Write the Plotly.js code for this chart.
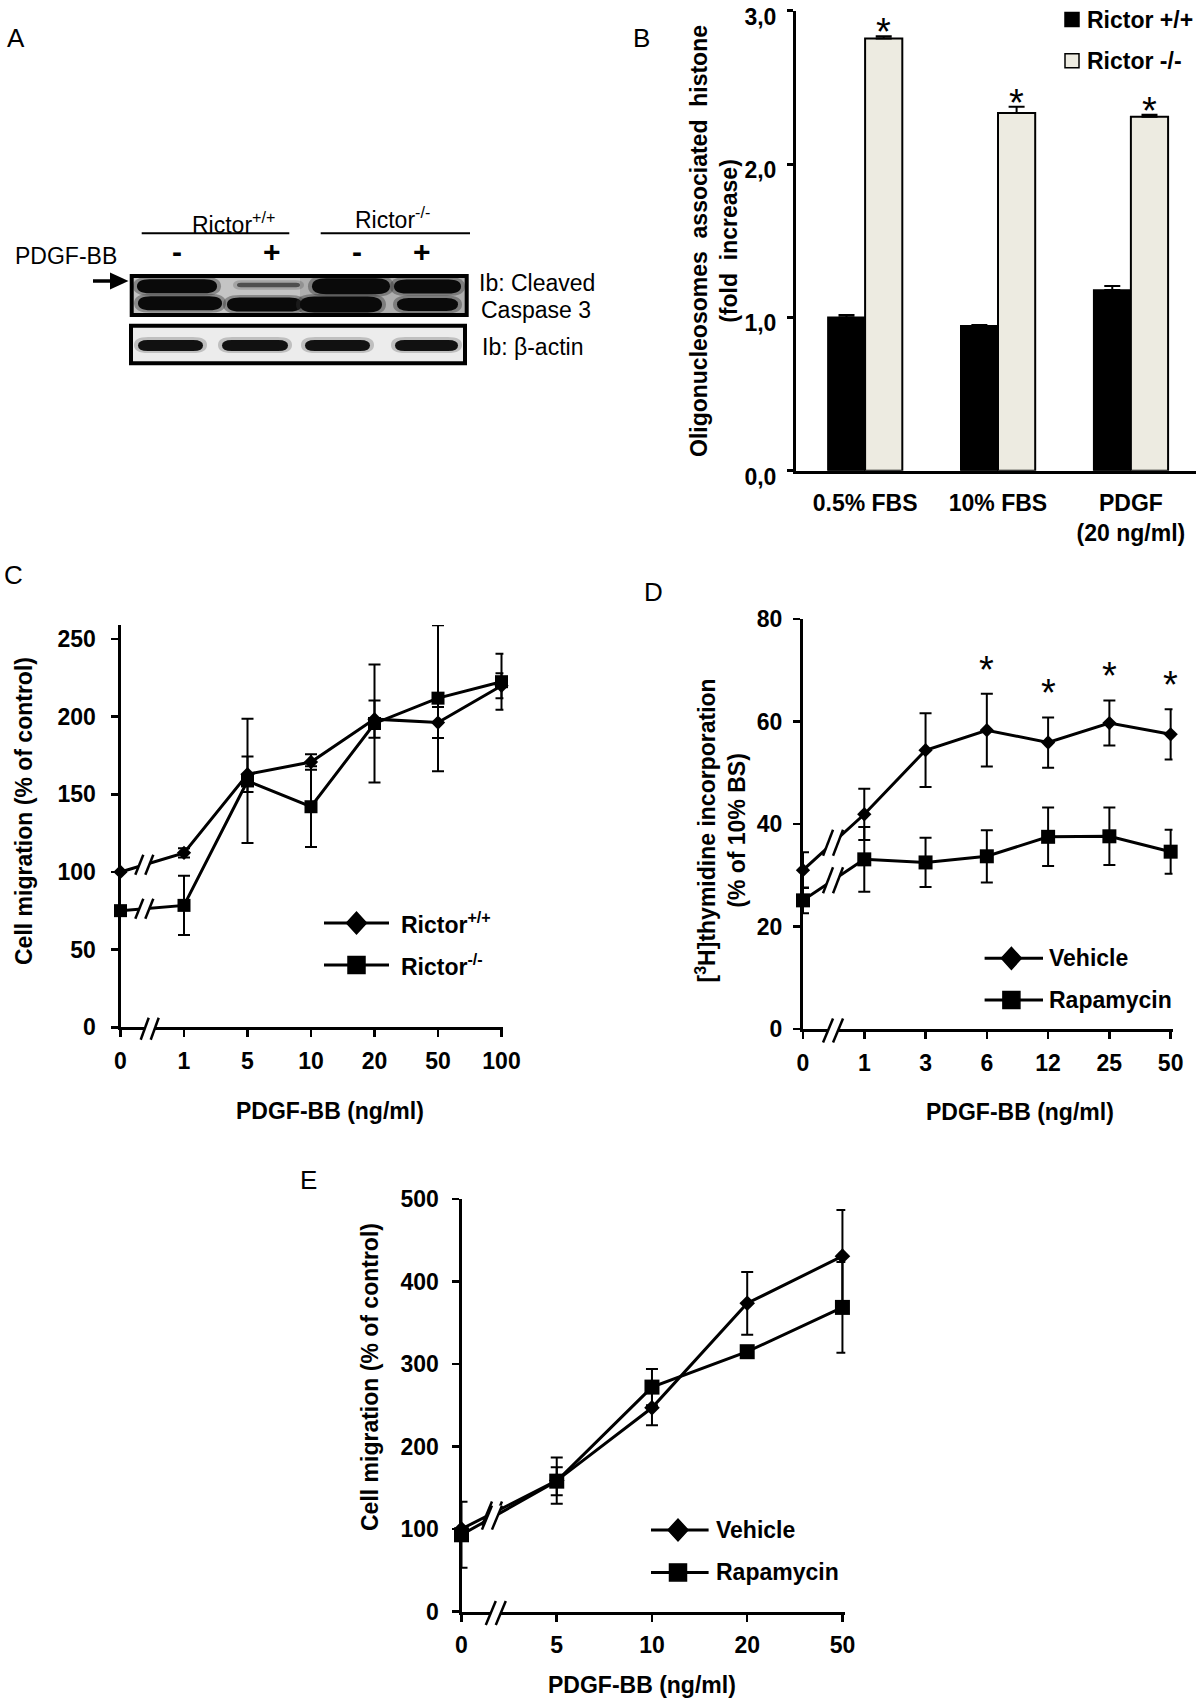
<!DOCTYPE html>
<html><head><meta charset="utf-8">
<script src="https://cdn.plot.ly/plotly-3.0.1.min.js"></script>
<style>html,body{margin:0;padding:0;background:#fff}#chart{width:1200px;height:1704px}</style>
</head><body><div id="chart"></div>
<script>
// ---------------- DATA ----------------
// Panel B: oligonucleosome-associated histone (fold increase)
const bCategories = ['0.5% FBS', '10% FBS', 'PDGF<br>(20 ng/ml)'];
const bRictorWT = [1.00, 0.945, 1.178];
const bRictorWTErr = [0.016, 0.006, 0.026];
const bRictorKO = [2.818, 2.333, 2.309];
const bRictorKOErr = [0.016, 0.040, 0.012];
const bSignificant = [true, true, true];
const bYTickVals = [0, 1, 2, 3];
const bYTickText = ['0,0', '1,0', '2,0', '3,0'];

// Panel C: cell migration, Rictor+/+ vs Rictor-/-
const cDoses = ['0', '1', '5', '10', '20', '50', '100'];
const cRictorWT = [100, 112.3, 162.9, 170.8, 198.4, 196.2, 219.9];
const cRictorWTErr = [0, 3, 11.4, 5, 12, 10, 8];
const cRictorKO = [75.1, 78.5, 158.6, 142, 195.6, 211.9, 222.5];
const cRictorKOErr = [0, 19, 40, 26, 38, 47, 18];
const cYTicks = [0, 50, 100, 150, 200, 250];

// Panel D: [3H]thymidine incorporation
const dDoses = ['0', '1', '3', '6', '12', '25', '50'];
const dVehicle = [31.0, 41.9, 54.4, 58.3, 55.9, 59.7, 57.5];
const dVehicleErr = [3.5, 5.0, 7.2, 7.1, 4.9, 4.4, 4.9];
const dRapamycin = [25.1, 33.1, 32.5, 33.7, 37.5, 37.6, 34.6];
const dRapamycinErr = [2.5, 6.3, 4.8, 5.1, 5.7, 5.6, 4.3];
const dSignificant = [false, false, false, true, true, true, true];
const dYTicks = [0, 20, 40, 60, 80];

// Panel E: cell migration, Vehicle vs Rapamycin
const eDoses = ['0', '5', '10', '20', '50'];
const eVehicle = [100, 158.7, 246.9, 373.6, 430.7];
const eVehicleErr = [0, 28, 21, 38, 56];
const eRapamycin = [93, 158, 272, 314.9, 368.6];
const eRapamycinErr = [40, 17, 22, 4, 55];
const eYTicks = [0, 100, 200, 300, 400, 500];

// Panel A: western blot lane labels
const blotGroups = ['Rictor<sup>+/+</sup>', 'Rictor<sup>-/-</sup>'];
const blotTreatment = ['-', '+', '-', '+'];
const blotRowLabels = ['Ib: Cleaved', 'Caspase 3', 'Ib: β-actin'];

// ---------------- HELPERS ----------------
const FONT = 'Liberation Sans, Arial, Helvetica, sans-serif';
const W = 1200, H = 1704;
const PX = x => x / W;
const PY = y => 1 - y / H;
const idx = arr => arr.map((_, i) => i);
const shapes = [];
const annotations = [];

function txt(x, y, text, size, xanchor, extra) {
  annotations.push(Object.assign({
    xref: 'paper', yref: 'paper', x: PX(x), y: PY(y), text: text, showarrow: false,
    xanchor: xanchor || 'center', yanchor: 'middle',
    font: {family: FONT, size: size, color: '#000'}
  }, extra || {}));
}
function pLine(x0, y0, x1, y1, w) {
  shapes.push({type: 'line', xref: 'paper', yref: 'paper', x0: PX(x0), y0: PY(y0), x1: PX(x1), y1: PY(y1),
    line: {color: '#000', width: w}, layer: 'above'});
}
function pRect(x0, y0, x1, y1, fill, lw) {
  shapes.push({type: 'rect', xref: 'paper', yref: 'paper', x0: PX(x0), y0: PY(y0), x1: PX(x1), y1: PY(y1),
    fillcolor: fill, line: {color: '#000', width: lw}, layer: 'above'});
}
function band(x0, x1, yc, hh, color, op) {
  const r = Math.min(hh * 1.8, (x1 - x0) / 2);
  const p = (x, y) => PX(x).toFixed(5) + ',' + PY(y).toFixed(5);
  const d = 'M' + p(x0 + r, yc - hh) + ' L' + p(x1 - r, yc - hh) + ' Q' + p(x1, yc - hh) + ' ' + p(x1, yc) +
    ' Q' + p(x1, yc + hh) + ' ' + p(x1 - r, yc + hh) + ' L' + p(x0 + r, yc + hh) + ' Q' + p(x0, yc + hh) + ' ' + p(x0, yc) +
    ' Q' + p(x0, yc - hh) + ' ' + p(x0 + r, yc - hh) + ' Z';
  shapes.push({type: 'path', xref: 'paper', yref: 'paper', path: d, fillcolor: color, opacity: op, line: {width: 0}, layer: 'above'});
}
function legendMarker(x, y, symbol, s, fill) {
  const path = symbol === 'diamond'
    ? 'M' + (-s) + ',0 L0,' + (s + 1) + ' L' + s + ',0 L0,' + (-s - 1) + ' Z'
    : 'M' + (-s) + ',' + (-s) + ' L' + s + ',' + (-s) + ' L' + s + ',' + s + ' L' + (-s) + ',' + s + ' Z';
  shapes.push({type: 'path', xref: 'paper', yref: 'paper', xsizemode: 'pixel', ysizemode: 'pixel',
    xanchor: PX(x), yanchor: PY(y), path: path, fillcolor: fill, line: {color: '#000', width: 1.5}, layer: 'above'});
}
function legendEntry(x0, x1, xm, xt, y, symbol, s, label) {
  pLine(x0, y, x1, y, 3);
  legendMarker(xm, y, symbol, s, '#000');
  txt(xt, y, '<b>' + label + '</b>', 23, 'left');
}
// axis-break "//" marks, sized in pixels and anchored to a position
function breakMark(xref, yref, xa, ya, h, a, gap, lw) {
  const common = {xref: xref, yref: yref, xsizemode: 'pixel', ysizemode: 'pixel', xanchor: xa, yanchor: ya, layer: 'above'};
  shapes.push(Object.assign({type: 'path',
    path: 'M' + (-gap - a) + ',' + (-h) + ' L' + (gap - a) + ',' + (-h) + ' L' + (gap + a) + ',' + h + ' L' + (-gap + a) + ',' + h + ' Z',
    fillcolor: '#fff', line: {width: 0}}, common));
  shapes.push(Object.assign({type: 'line', x0: -gap - a, y0: -h, x1: -gap + a, y1: h, line: {color: '#000', width: lw}}, common));
  shapes.push(Object.assign({type: 'line', x0: gap - a, y0: -h, x1: gap + a, y1: h, line: {color: '#000', width: lw}}, common));
}
// point on the segment between the first two data points
const between = (arr, t) => arr[0] + (arr[1] - arr[0]) * t;

// ---------------- PANEL A (blot) ----------------
txt(16, 38, 'A', 26);
txt(233.5, 223, blotGroups[0], 23);
txt(392.5, 218, blotGroups[1], 23);
pLine(141.7, 233.3, 289.3, 233.3, 2);
pLine(320.7, 233.3, 470, 233.3, 2);
txt(12.7, 256, 'PDGF-BB', 23, 'left');
const laneX = [176.7, 271.7, 356.7, 421.7];
blotTreatment.forEach((t, i) => txt(laneX[i], 251.7, '<b>' + t + '</b>', 30));
// arrow
pLine(93, 281, 115, 281, 3.5);
shapes.push({type: 'path', xref: 'paper', yref: 'paper',
  path: 'M' + PX(110) + ',' + PY(272.5) + ' L' + PX(128.5) + ',' + PY(281) + ' L' + PX(110) + ',' + PY(289.5) + ' Z',
  fillcolor: '#000', line: {width: 0}, layer: 'above'});
// cleaved caspase 3 blot
pRect(131.7, 276, 466.7, 315, '#c4c4c4', 0);
pRect(300, 278, 466, 313, '#aeaeae', 0);
const upperBands = [[137, 217, 286.2, 7, 1], [138, 222, 303.3, 7, 1], [237, 300, 285, 2.2, 0.55],
  [227, 302, 304.5, 7, 1], [312, 390, 286.2, 8, 1], [300, 382, 304.5, 8, 1],
  [394, 461, 286.5, 7, 1], [397, 458, 304.5, 6.5, 1]];
upperBands.forEach(b => { band(b[0] - 4, b[1] + 4, b[2], b[3] + 2.5, '#333', 0.4 * b[4]); band(b[0], b[1], b[2], b[3], '#0a0a0a', b[4]); });
pRect(131.7, 276, 466.7, 315, 'rgba(0,0,0,0)', 4);
// beta-actin blot
pRect(131, 325.7, 465, 363.3, '#ececec', 0);
const actinBands = [[138, 203], [222, 288], [305, 370], [395, 458]];
actinBands.forEach(b => { band(b[0] - 4, b[1] + 4, 345, 8, '#555', 0.3); band(b[0], b[1], 345.5, 5.5, '#111', 1); });
pRect(131, 325.7, 465, 363.3, 'rgba(0,0,0,0)', 4);
txt(476.7, 283.3, blotRowLabels[0], 23, 'left');
txt(479, 310, blotRowLabels[1], 23, 'left');
txt(480, 346.7, blotRowLabels[2], 23, 'left');

// ---------------- PANEL LETTERS & TITLES ----------------
txt(641, 38, 'B', 26);
txt(13, 575, 'C', 26);
txt(653, 592, 'D', 26);
txt(308, 1180, 'E', 26);

txt(714, 241, '<b>Oligonucleosomes\u00a0 associated\u00a0 histone<br>(fold\u00a0 increase)</b>', 23, 'center', {textangle: -90});
txt(24, 811, '<b>Cell migration (% of control)</b>', 23, 'center', {textangle: -90});
txt(330, 1111, '<b>PDGF-BB (ng/ml)</b>', 23);
txt(720.5, 831, '<b>[<sup>3</sup>H]thymidine incorporation<br>(% of 10% BS)</b>', 23, 'center', {textangle: -90});
txt(1020, 1112, '<b>PDGF-BB (ng/ml)</b>', 23);
txt(370, 1377, '<b>Cell migration (% of control)</b>', 23, 'center', {textangle: -90});
txt(642, 1685, '<b>PDGF-BB (ng/ml)</b>', 23);

// ---------------- LEGENDS ----------------
legendMarker(1072, 19.6, 'square', 7, '#000');
txt(1085, 19.6, '<b>Rictor +/+</b>', 23, 'left');
legendMarker(1072, 60.7, 'square', 7, '#EDEBE1');
txt(1085, 60.7, '<b>Rictor -/-</b>', 23, 'left');

legendEntry(324, 389, 356.5, 399, 923, 'diamond', 10, 'Rictor<sup>+/+</sup>');
legendEntry(324, 389, 356.5, 399, 965, 'square', 8.5, 'Rictor<sup>-/-</sup>');
legendEntry(984.6, 1043, 1011.4, 1047, 958.3, 'diamond', 10, 'Vehicle');
legendEntry(984.6, 1043, 1011.4, 1047, 1000, 'square', 8.5, 'Rapamycin');
legendEntry(651, 708.6, 678, 714, 1530, 'diamond', 10, 'Vehicle');
legendEntry(651, 708.6, 678, 714, 1572.4, 'square', 8.5, 'Rapamycin');

// ---------------- SIGNIFICANCE STARS ----------------
bSignificant.forEach((s, i) => {
  if (s) annotations.push({xref: 'x', yref: 'y', x: bCategories[i], y: bRictorKO[i] + bRictorKOErr[i], text: '*',
    showarrow: false, xanchor: 'center', yanchor: 'middle', yshift: 4, xshift: 18.5,
    font: {family: FONT, size: 38, color: '#000'}});
});
dSignificant.forEach((s, i) => {
  if (s) annotations.push({xref: 'x3', yref: 'y3', x: i, y: dVehicle[i] + dVehicleErr[i], text: '*',
    showarrow: false, xanchor: 'center', yanchor: 'middle', yshift: 24,
    font: {family: FONT, size: 38, color: '#000'}});
});

// ---------------- AXIS BREAKS ----------------
breakMark('x2', 'y2', 0.375, between(cRictorWT, 0.375), 10, 4, 5, 2.5);
breakMark('x2', 'y2', 0.375, between(cRictorKO, 0.375), 10, 4, 5, 2.5);
breakMark('x2', 'paper', 0.46, PY(1027.3 + 1.5), 11, 4, 5, 2.5);
breakMark('x3', 'y3', 0.49, between(dVehicle, 0.49), 13, 5, 5, 2.5);
breakMark('x3', 'y3', 0.49, between(dRapamycin, 0.49), 13, 5, 5, 2.5);
breakMark('x3', 'paper', 0.49, PY(1029 + 1.5), 12, 5, 5, 2.5);
breakMark('x4', 'y4', 0.32, between(eVehicle, 0.32), 12, 5, 5, 2.5);
breakMark('x4', 'y4', 0.32, between(eRapamycin, 0.32), 12, 5, 5, 2.5);
breakMark('x4', 'paper', 0.36, PY(1611.5 + 1.5), 12, 5, 5, 2.5);

// ---------------- TRACES ----------------
const errStyle = (arr, w) => ({type: 'data', array: arr, visible: true, color: '#000', thickness: 2, width: w});
const lineStyle = {color: '#000', width: 3};
const traces = [
  {type: 'bar', name: 'Rictor +/+', x: bCategories, y: bRictorWT, xaxis: 'x', yaxis: 'y',
    marker: {color: '#000', line: {color: '#000', width: 1.5}},
    error_y: Object.assign(errStyle(bRictorWTErr, 8), {symmetric: false, arrayminus: bRictorWTErr.map(() => 0)})},
  {type: 'bar', name: 'Rictor -/-', x: bCategories, y: bRictorKO, xaxis: 'x', yaxis: 'y',
    marker: {color: '#EDEBE1', line: {color: '#000', width: 2}},
    error_y: Object.assign(errStyle(bRictorKOErr, 8), {symmetric: false, arrayminus: bRictorKOErr.map(() => 0)})},

  {type: 'scatter', mode: 'lines+markers', name: 'Rictor+/+', x: idx(cDoses), y: cRictorWT, xaxis: 'x2', yaxis: 'y2',
    line: lineStyle, marker: {symbol: 'diamond', size: 11, color: '#000'}, error_y: errStyle(cRictorWTErr, 6), cliponaxis: false},
  {type: 'scatter', mode: 'lines+markers', name: 'Rictor-/-', x: idx(cDoses), y: cRictorKO, xaxis: 'x2', yaxis: 'y2',
    line: lineStyle, marker: {symbol: 'square', size: 13, color: '#000'}, error_y: errStyle(cRictorKOErr, 6), cliponaxis: false},

  {type: 'scatter', mode: 'lines+markers', name: 'Vehicle', x: idx(dDoses), y: dVehicle, xaxis: 'x3', yaxis: 'y3',
    line: lineStyle, marker: {symbol: 'diamond', size: 11, color: '#000'}, error_y: errStyle(dVehicleErr, 6), cliponaxis: false},
  {type: 'scatter', mode: 'lines+markers', name: 'Rapamycin', x: idx(dDoses), y: dRapamycin, xaxis: 'x3', yaxis: 'y3',
    line: lineStyle, marker: {symbol: 'square', size: 14, color: '#000'}, error_y: errStyle(dRapamycinErr, 6), cliponaxis: false},

  {type: 'scatter', mode: 'lines+markers', name: 'Vehicle', x: idx(eDoses), y: eVehicle, xaxis: 'x4', yaxis: 'y4',
    line: lineStyle, marker: {symbol: 'diamond', size: 12, color: '#000'}, error_y: errStyle(eVehicleErr, 6), cliponaxis: false},
  {type: 'scatter', mode: 'lines+markers', name: 'Rapamycin', x: idx(eDoses), y: eRapamycin, xaxis: 'x4', yaxis: 'y4',
    line: lineStyle, marker: {symbol: 'square', size: 15, color: '#000'}, error_y: errStyle(eRapamycinErr, 6), cliponaxis: false}
];

// ---------------- AXES ----------------
const tickFont = {family: FONT, size: 23, color: '#000', weight: 'bold'};
const baseAxis = {showline: true, linecolor: '#000', linewidth: 3, showgrid: false, zeroline: false,
  tickfont: tickFont, tickcolor: '#000', fixedrange: true, ticklabeloverflow: 'allow'};
const yAx = (domTop, domBot, range, vals, text, standoff) => Object.assign({}, baseAxis, {
  domain: [PY(domBot), PY(domTop)], range: range, tickmode: 'array', tickvals: vals, ticktext: text || vals.map(String),
  ticks: 'outside', ticklen: 7, tickwidth: 2.5, ticklabelstandoff: standoff});
const xAx = (l, r, range, vals, text, standoff) => Object.assign({}, baseAxis, {
  domain: [PX(l), PX(r)], range: range, tickmode: 'array', tickvals: vals, ticktext: text,
  ticks: 'outside', ticklen: 7, tickwidth: 2.5, ticklabelstandoff: standoff});

const layout = {
  width: W, height: H, margin: {l: 0, r: 0, t: 0, b: 0}, paper_bgcolor: '#fff', plot_bgcolor: 'rgba(0,0,0,0)',
  showlegend: false, barmode: 'group', bargap: 0.44, bargroupgap: 0,
  font: {family: FONT, color: '#000'},
  xaxis: Object.assign({}, baseAxis, {domain: [PX(796), PX(1196)], anchor: 'y', type: 'category',
    range: [-0.52, 2.49], ticks: '', ticklabelstandoff: 10}),
  yaxis: Object.assign(yAx(10.7, 470.7, [0, 3], bYTickVals, bYTickText, 6), {anchor: 'x', ticklen: 6, tickwidth: 3, ticklabelshift: 6}),
  xaxis2: Object.assign(xAx(120.5, 503.4, [0, 6.03], idx(cDoses), cDoses, 4), {anchor: 'y2'}),
  yaxis2: Object.assign(yAx(625, 1027.3, [0, 259], cYTicks, null, 10), {anchor: 'x2'}),
  xaxis3: Object.assign(xAx(803, 1172.5, [0, 6.03], idx(dDoses), dDoses, 4), {anchor: 'y3'}),
  yaxis3: Object.assign(yAx(619, 1029, [0, 80], dYTicks, null, 6), {anchor: 'x3'}),
  xaxis4: Object.assign(xAx(461.5, 845.3, [0, 4.03], idx(eDoses), eDoses, 4), {anchor: 'y4'}),
  yaxis4: Object.assign(yAx(1199, 1611.5, [0, 500], eYTicks, null, 8), {anchor: 'x4'}),
  shapes: shapes,
  annotations: annotations
};

Plotly.newPlot('chart', traces, layout, {displayModeBar: false, staticPlot: true});
</script></body></html>
